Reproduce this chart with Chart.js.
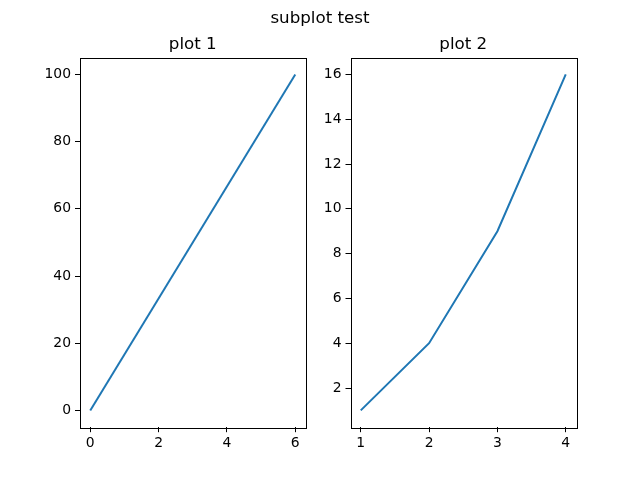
<!DOCTYPE html>
<html>
<head>
<meta charset="utf-8">
<script src="https://cdn.jsdelivr.net/npm/chart.js@4"></script>
<style>
  html, body { margin: 0; padding: 0; background: #fff; }
  #wrap { position: relative; width: 640px; height: 480px; }
  #wrap canvas { position: absolute; left: 0; top: 0; }
  #suptitle {
    position: absolute; left: 0; top: 7px; width: 640px; text-align: center;
    font-family: "DejaVu Sans", sans-serif; font-size: 16.7px; color: #000;
  }
</style>
</head>
<body>
<div id="wrap">
  <canvas id="plot1" width="640" height="480"></canvas>
  <canvas id="plot2" width="640" height="480"></canvas>
  <div id="suptitle">subplot test</div>
</div>
<script>
// plot 1
const x1 = [0, 6];
const y1 = [0, 100];
const x1Ticks = [0, 2, 4, 6];
const y1Ticks = [0, 20, 40, 60, 80, 100];

// plot 2
const x2 = [1, 2, 3, 4];
const y2 = [1, 4, 9, 16];
const x2Ticks = [1, 2, 3, 4];
const y2Ticks = [2, 4, 6, 8, 10, 12, 14, 16];

const lineColor = '#1f77b4';
const font = { family: 'DejaVu Sans', size: 13.9 };

// matplotlib-style box around the axes + axes title centred on it
const boxPlugin = {
    id: 'box',
    afterDraw(chart, args, opts) {
        const a = chart.chartArea;
        const ctx = chart.ctx;
        ctx.save();
        ctx.strokeStyle = '#000';
        ctx.lineWidth = 1;
        ctx.strokeRect(Math.round(a.left) + 0.5, Math.round(a.top) + 0.5,
            Math.round(a.right - a.left), Math.round(a.bottom - a.top));
        ctx.fillStyle = '#000';
        ctx.font = '16.7px "DejaVu Sans"';
        ctx.textAlign = 'center';
        ctx.textBaseline = 'alphabetic';
        ctx.fillText(opts.text, (a.left + a.right) / 2, a.top - 8.3);
        ctx.restore();
    }
};

const makeChart = (id, xs, ys, xTicks, yTicks, xMin, xMax, yMin, yMax, left, right, title) => {
    const ctx = document.getElementById(id).getContext('2d');
    return new Chart(ctx, {
        type: 'line',
        data: {
            datasets: [{
                data: xs.map((x, i) => ({ x: x, y: ys[i] })),
                borderColor: lineColor,
                borderWidth: 2,
                pointRadius: 0,
                tension: 0,
                fill: false
            }]
        },
        options: {
            responsive: false,
            animation: false,
            events: [],
            layout: {
                padding: { left: 0, right: 640 - right, top: 57.6, bottom: 0 }
            },
            plugins: {
                legend: { display: false },
                tooltip: { enabled: false },
                title: { display: false },
                box: { text: title }
            },
            scales: {
                x: {
                    type: 'linear',
                    min: xMin,
                    max: xMax,
                    afterBuildTicks: s => { s.ticks = xTicks.map(v => ({ value: v })); },
                    afterFit: s => { s.height = 480 - 427.2; },
                    ticks: { color: '#000', font: font, padding: 3, maxRotation: 0 },
                    grid: { display: true, drawOnChartArea: false, drawTicks: true, tickLength: 5, color: '#000' },
                    border: { display: false }
                },
                y: {
                    type: 'linear',
                    min: yMin,
                    max: yMax,
                    afterBuildTicks: s => { s.ticks = yTicks.map(v => ({ value: v })); },
                    afterFit: s => { s.width = left; },
                    ticks: { color: '#000', font: font, padding: 4 },
                    grid: { display: true, drawOnChartArea: false, drawTicks: true, tickLength: 5, color: '#000' },
                    border: { display: false }
                }
            }
        },
        plugins: [boxPlugin]
    });
};

makeChart('plot1', x1, y1, x1Ticks, y1Ticks, -0.3, 6.3, -5, 105, 80, 305.5, 'plot 1');
makeChart('plot2', x2, y2, x2Ticks, y2Ticks, 0.85, 4.15, 0.25, 16.75, 350.5, 576, 'plot 2');
</script>
</body>
</html>
